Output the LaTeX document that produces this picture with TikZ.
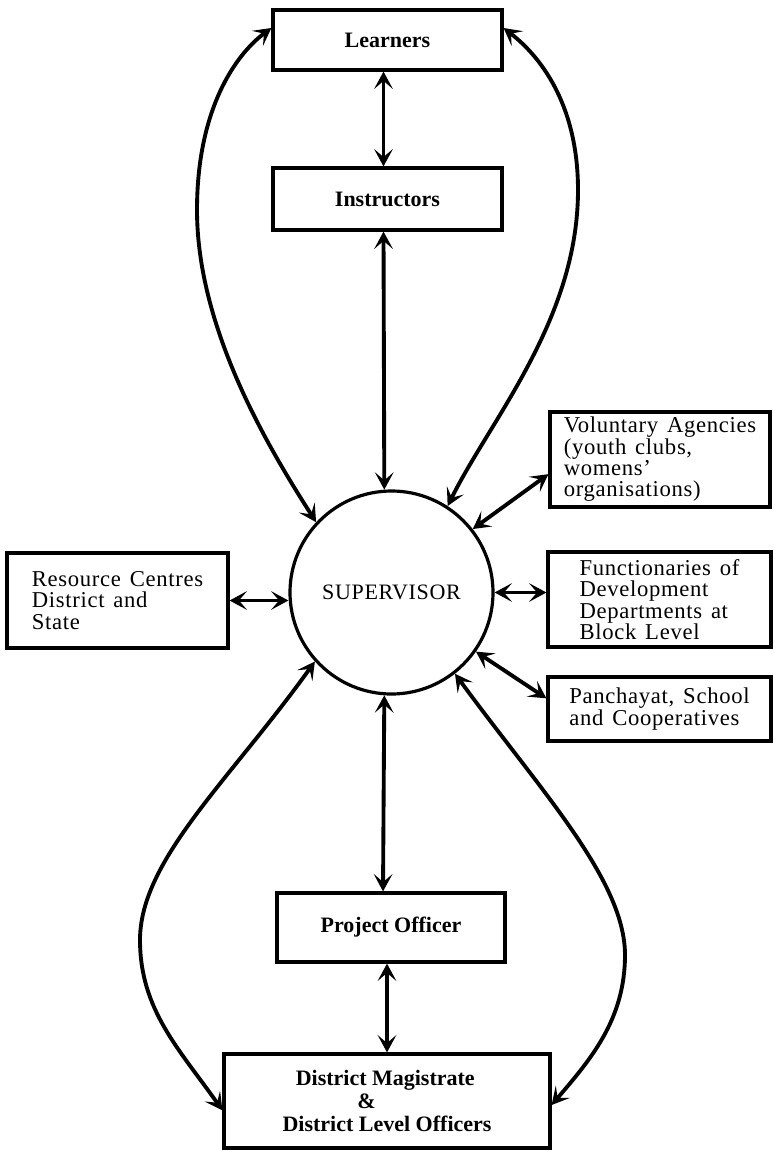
\documentclass[tikz,border=0pt]{standalone}
\usepackage{fontspec}
\setmainfont{Liberation Serif}
\newfontfamily\sidefont{Liberation Serif}[LetterSpace=3,WordSpace=1.4]
\usetikzlibrary{arrows.meta}
\begin{document}
\begin{tikzpicture}[x=0.75pt,y=-0.75pt,
  lw/.style={line width=2.4pt},
  cbox/.style={draw,lw,rectangle,inner sep=0pt,font=\fontsize{16.5}{17.5}\selectfont\bfseries,align=center},
  sbox/.style={draw,lw,rectangle,inner sep=0pt,font=\sidefont\fontsize{17}{16}\selectfont,align=left},
  arr/.style={line width=2.9pt,{Stealth[length=13pt,width=14pt,inset=6pt]}-{Stealth[length=13pt,width=14pt,inset=6pt]}},
]
\useasboundingbox (0,0) rectangle (774,1150);

% nodes
\node[cbox,minimum width=171.75pt,minimum height=45pt] (learn) at (387.5,40) {Learners};
\node[cbox,minimum width=171.75pt,minimum height=46.5pt] (instr) at (387.5,199) {Instructors};
\node[draw,lw,circle,inner sep=0pt,minimum size=152.25pt,font=\sidefont\fontsize{16.5}{17}\selectfont] (sup) at (391.5,592.5) {SUPERVISOR};
\node[sbox,minimum width=165.75pt,minimum height=71.25pt] (res) at (117.5,600.5) {Resource Centres\\District and\\State};
\node[sbox,minimum width=165pt,minimum height=71.25pt] (vol) at (660,459.5) {Voluntary Agencies\\(youth clubs,\\womens’\\organisations)};
\node[sbox,minimum width=167.25pt,minimum height=71.25pt] (fun) at (659.5,599.5) {Functionaries of\\Development\\Departments at\\Block Level};
\node[sbox,minimum width=167.25pt,minimum height=48pt] (pan) at (659.5,709) {Panchayat, School\\and Cooperatives};
\node[cbox,minimum width=171pt,minimum height=51.75pt] (proj) at (391,927.5) {Project Officer};
\node[cbox,align=left,minimum width=244.5pt,minimum height=70.5pt] (dist) at (387,1101) {\hspace*{0.6em}District Magistrate\\\hspace*{3.4em}\&\\District Level Officers};

% vertical connectors
\draw[arr] ([xshift=-3pt]learn.south) -- ([xshift=-3pt]instr.north);
\draw[arr] ([xshift=-3pt]instr.south) -- (sup.94.8);
\draw[arr] (sup.-94.8) -- ([xshift=-6pt]proj.north);
\draw[arr] ([xshift=-3pt]proj.south) -- (dist.north);

% horizontal / side connectors
\draw[arr] (res.east) -- (res.east -| sup.west);
\draw[arr] (sup.east) -- (sup.east -| fun.west);
\draw[arr] (sup.38.8) -- ([yshift=-11pt]vol.west);
\draw[arr] (sup.-35.8) -- ([yshift=8pt]pan.west);

% curved connectors
\draw[arr] (sup.137.7) .. controls (270,450) and (197,330) .. (197,210)
  .. controls (197,110) and (235,55) .. ([yshift=9pt]learn.west);
\draw[arr] (sup.57) .. controls (490,420) and (578,320) .. (578,190)
  .. controls (578,110) and (545,60) .. ([yshift=9pt]learn.east);
\draw[arr] (sup.-138.4) .. controls (230,780) and (140,860) .. (140,940)
  .. controls (140,1010) and (180,1050) .. ([yshift=-7pt]dist.west);
\draw[arr] (sup.-52) .. controls (540,790) and (625,880) .. (625,955)
  .. controls (625,1020) and (590,1060) .. ([yshift=-3pt]dist.east);
\end{tikzpicture}
\end{document}
